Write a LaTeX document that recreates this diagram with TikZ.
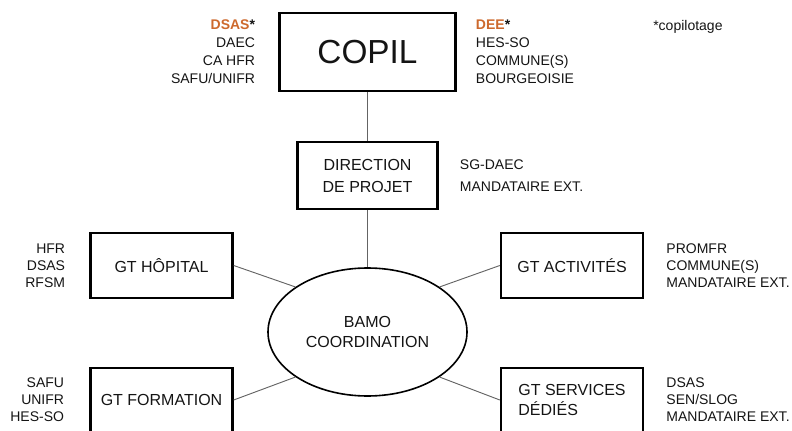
\documentclass[tikz,border=0pt]{standalone}
\usepackage{fontspec}
\setmainfont{Liberation Sans}
\usepackage{tikz}
\usetikzlibrary{positioning,shapes.geometric}

\definecolor{leadorange}{RGB}{205,105,45}
\definecolor{textgray}{RGB}{20,20,20}
\definecolor{linkgray}{RGB}{100,100,100}

\begin{document}
\begin{tikzpicture}[x=0.75pt, y=-0.75pt,
    box/.style={draw, line width=1.8pt, align=center, text=textgray,
        font=\fontsize{12}{16.5}\selectfont},
    gtbox/.style={box, minimum width=106.5pt, minimum height=48.75pt,
        font=\fontsize{12}{15}\selectfont},
    members/.style={inner sep=0pt, text=textgray,
        font=\fontsize{10.5}{13.5}\selectfont},
    link/.style={draw=linkgray, line width=0.7pt}]

    \useasboundingbox (0,0) rectangle (792,431);

    % Nodes {copil, direction, bamo, gt boxes}
    \node [box, minimum width=132pt, minimum height=58.5pt,
           font=\fontsize{25}{30}\selectfont]           (copil)     at (367.5,52)    {COPIL};
    \node [box, minimum width=105pt, minimum height=50.25pt] (direction) at (367.5,175.5) {DIRECTION\\DE PROJET};
    \node [ellipse, draw, line width=1.2pt, inner sep=0pt, align=center,
           minimum width=149.25pt, minimum height=96pt, text=textgray,
           font=\fontsize{12}{15}\selectfont]           (bamo)      at (367.5,332)   {BAMO\\COORDINATION};
    \node [gtbox]   (hopital)    at (161.5,265.5)  {GT HÔPITAL};
    \node [gtbox]   (activites)  at (572,265.5)    {GT ACTIVITÉS};
    \node [gtbox, minimum height=48pt]  (formation)  at (161.5,400)  {GT FORMATION};
    \node [gtbox, minimum height=48pt, align=left]  (services)   at (572,400)    {GT SERVICES\\DÉDIÉS};

    % Members
    \node [members, align=right, left=17.25pt of copil]    (copilL)  {{\color{leadorange}\textbf{DSAS}}\textbf{*}\\DAEC\\CA HFR\\SAFU/UNIFR};
    \node [members, align=left,  right=14.25pt of copil]   (copilR)  {{\color{leadorange}\textbf{DEE}}\textbf{*}\\HES-SO\\COMMUNE(S)\\BOURGEOISIE};
    \node [members, anchor=west] (note) at (653,27) {*copilotage};
    \node [members, align=left, right=15.75pt of direction,
           font=\fontsize{10.5}{16.5}\selectfont]           (directionR) {SG-DAEC\\MANDATAIRE EXT.};
    \node [members, align=right, left=18pt of hopital,
           font=\fontsize{10.5}{12.75}\selectfont]          (hopitalL)   {HFR\\DSAS\\RFSM};
    \node [members, align=left, right=16.5pt of activites,
           font=\fontsize{10.5}{12.75}\selectfont]          (activitesR) {PROMFR\\COMMUNE(S)\\MANDATAIRE EXT.};
    \node [members, align=right, left=18.75pt of formation,
           font=\fontsize{10.5}{12.75}\selectfont]          (formationL) {SAFU\\UNIFR\\HES-SO};
    \node [members, align=left, right=16.5pt of services,
           font=\fontsize{10.5}{12.75}\selectfont]          (servicesR)  {DSAS\\SEN/SLOG\\MANDATAIRE EXT.};

    % Paths
    \path [link]  (copil)             edge  (direction);
    \path [link]  (direction)         edge  (bamo);
    \path [link]  (hopital.east)      edge  (bamo.148);
    \path [link]  (activites.west)    edge  (bamo.32);
    \path [link]  (formation.east)    edge  (bamo.212);
    \path [link]  (services.west)     edge  (bamo.328);

\end{tikzpicture}
\end{document}
